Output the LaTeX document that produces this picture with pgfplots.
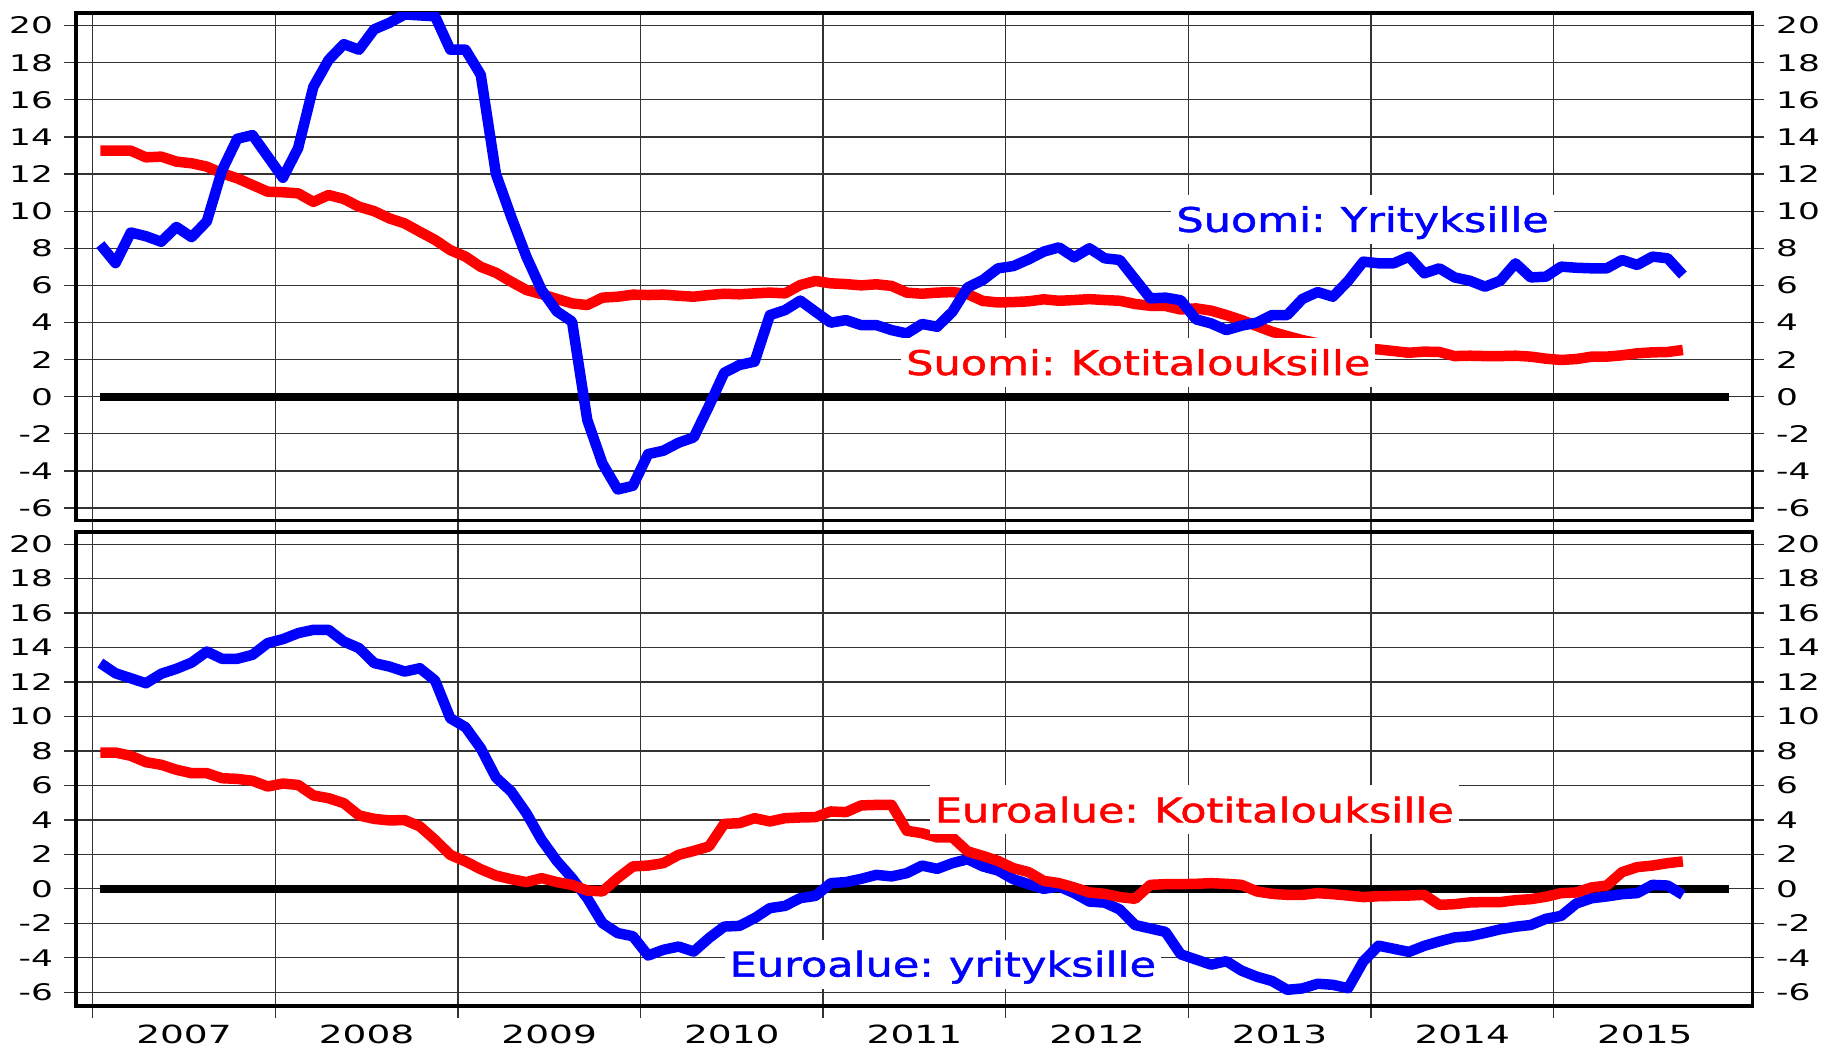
\documentclass[border=0pt]{standalone}
\usepackage{pgfplots}
\pgfplotsset{compat=1.18}
\usepackage{pgfplotstable}
\usepackage{fontspec}
\setmainfont{DejaVu Sans}
\newfontfamily\tickfont[FakeStretch=1.5]{DejaVu Sans}
\newfontfamily\labfont[FakeStretch=1.265, FakeBold=1.5]{DejaVu Sans}
\definecolor{cb}{RGB}{0,0,255}
\definecolor{cr}{RGB}{255,0,0}
\pgfplotstableread{
fiy fik eay eak
8.2 13.26 13.1 7.91
7.2 13.26 12.51 7.91
8.85 13.26 12.22 7.72
8.65 12.9 11.93 7.35
8.35 12.94 12.48 7.2
9.15 12.67 12.77 6.91
8.6 12.58 13.13 6.71
9.45 12.4 13.77 6.71
12.2 12.04 13.35 6.42
13.9 11.77 13.35 6.38
14.1 11.41 13.58 6.27
12.95 11.05 14.26 5.94
11.8 11.02 14.49 6.11
13.4 10.96 14.84 6.03
16.7 10.5 15.03 5.42
18.15 10.87 15.03 5.26
19.0 10.66 14.35 4.97
18.7 10.24 13.97 4.26
19.8 10.0 13.1 4.06
20.15 9.61 12.9 3.97
20.6 9.34 12.61 3.99
20.55 8.89 12.8 3.62
20.5 8.45 12.09 2.84
18.7 7.9 9.9 1.97
18.7 7.55 9.38 1.59
17.35 7.0 8.16 1.14
12.0 6.68 6.46 0.77
9.7 6.2 5.65 0.56
7.55 5.75 4.39 0.39
5.75 5.53 2.84 0.62
4.6 5.27 1.62 0.39
4.05 5.03 0.62 0.23
-1.25 4.94 -0.54 -0.1
-3.6 5.34 -1.99 -0.15
-5.0 5.39 -2.57 0.62
-4.8 5.5 -2.75 1.3
-3.09 5.48 -3.87 1.35
-2.91 5.5 -3.54 1.49
-2.48 5.44 -3.35 1.97
-2.19 5.39 -3.64 2.2
-0.5 5.48 -2.86 2.46
1.29 5.55 -2.19 3.77
1.71 5.52 -2.15 3.81
1.89 5.57 -1.7 4.1
4.4 5.61 -1.12 3.91
4.67 5.57 -0.99 4.1
5.18 6.02 -0.54 4.14
4.58 6.24 -0.41 4.16
3.99 6.11 0.33 4.49
4.13 6.07 0.39 4.45
3.86 6.0 0.58 4.84
3.86 6.06 0.81 4.87
3.59 5.97 0.72 4.87
3.41 5.61 0.91 3.37
3.92 5.55 1.35 3.23
3.77 5.61 1.16 2.98
4.58 5.64 1.49 2.98
5.89 5.53 1.72 2.17
6.29 5.16 1.3 1.91
6.92 5.08 1.06 1.62
7.04 5.1 0.56 1.2
7.4 5.14 0.27 0.97
7.82 5.25 0.0 0.46
8.05 5.17 0.14 0.33
7.51 5.21 -0.25 0.08
8.0 5.26 -0.74 -0.21
7.46 5.21 -0.8 -0.29
7.37 5.17 -1.2 -0.48
6.33 5.0 -2.1 -0.58
5.3 4.9 -2.3 0.23
5.34 4.89 -2.5 0.27
5.2 4.7 -3.8 0.27
4.17 4.76 -4.1 0.29
3.95 4.64 -4.4 0.33
3.59 4.4 -4.2 0.29
3.83 4.13 -4.75 0.23
3.99 3.81 -5.1 -0.15
4.4 3.5 -5.35 -0.29
4.4 3.27 -5.86 -0.35
5.27 3.05 -5.78 -0.35
5.64 2.88 -5.51 -0.25
5.39 2.73 -5.57 -0.31
6.24 2.66 -5.77 -0.39
7.28 2.6 -4.21 -0.48
7.19 2.55 -3.3 -0.43
7.19 2.46 -3.48 -0.41
7.55 2.37 -3.66 -0.39
6.65 2.43 -3.31 -0.35
6.92 2.41 -3.05 -0.93
6.43 2.19 -2.82 -0.89
6.25 2.21 -2.75 -0.79
5.93 2.19 -2.56 -0.77
6.25 2.19 -2.35 -0.77
7.19 2.21 -2.2 -0.66
6.43 2.16 -2.1 -0.6
6.47 2.05 -1.74 -0.46
7.01 1.98 -1.57 -0.25
6.95 2.03 -0.85 -0.21
6.92 2.16 -0.55 0.08
6.92 2.16 -0.44 0.19
7.37 2.23 -0.31 0.97
7.1 2.34 -0.25 1.26
7.55 2.39 0.23 1.35
7.46 2.41 0.19 1.49
6.56 2.52 -0.35 1.59
}\data
\pgfplotsset{
  panel/.style={
    scale only axis, width=1676.7pt, anchor=south west,
    xmin=-1.098, xmax=109.09,
    xtick={0,12,...,96}, xticklabels={},
    ytick={-6,-4,...,20},
    xmajorgrids, ymajorgrids,
    major grid style={black!80, line width=1.3pt},
    axis line style={line width=3.5pt},
    tick align=outside,
    major tick style={black!80, line width=1.3pt},
    major tick length=11.5pt,
    xtick pos=bottom, ytick pos=both, yticklabel pos=left,
    /pgf/number format/assume math mode=true,
    yticklabel style={font=\tickfont\fontsize{22.9}{24}\selectfont, inner sep=0pt, xshift=-11.4pt},
    every axis plot/.append style={line width=10.5pt, line join=round},
  },
  rightlab/.style={
    scale only axis, width=1676.7pt, anchor=south west,
    xmin=-1.098, xmax=109.09,
    hide x axis, axis y line*=right, y axis line style={draw=none},
    ytick={-6,-4,...,20}, major tick length=0pt, ytick style={draw=none},
    /pgf/number format/assume math mode=true,
    yticklabel style={font=\tickfont\fontsize{22.9}{24}\selectfont, inner sep=0pt, anchor=west, xshift=23.3pt},
  },
}
\tikzset{
  lab/.style={font=\labfont\fontsize{34}{36}\selectfont, fill=white, anchor=base,
    inner xsep=5pt, inner ysep=6pt, text height=31pt, text depth=6pt},
}
\begin{document}
\begin{tikzpicture}
\path[use as bounding box] (0pt,0pt) rectangle (1822pt,1049pt);
% top panel
\begin{axis}[panel, at={(76pt,528.5pt)}, height=507.5pt, ymin=-6.67, ymax=20.68]
\addplot[black, line width=8pt] coordinates {(0.5,0) (107.5,0)};
\addplot[cr] table[x expr=\coordindex+0.5, y=fik]{\data};
\addplot[cb] table[x expr=\coordindex+0.5, y=fiy]{\data};
\node[lab, text=cb] at (axis cs:83.45,8.88) {Suomi:\kern-3pt{} Yrityksille};
\node[lab, text=cr] at (axis cs:68.71,1.17) {Suomi:\kern-3pt{} Kotitalouksille};
\end{axis}
\begin{axis}[rightlab, at={(76pt,528.5pt)}, height=507.5pt, ymin=-6.67, ymax=20.68]
\end{axis}
% lower panel
\begin{axis}[panel, at={(76pt,43pt)}, height=474.2pt, ymin=-6.8, ymax=20.72,
  extra x ticks={6,18,...,102},
  extra x tick labels={2007,2008,2009,2010,2011,2012,2013,2014,2015},
  extra x tick style={grid=none, major tick length=0pt,
    xticklabel style={font=\tickfont\fontsize{25}{26}\selectfont, anchor=base, inner sep=0pt, yshift=-37pt}}]
\addplot[black, line width=8pt] coordinates {(0.5,0) (107.5,0)};
\addplot[cb] table[x expr=\coordindex+0.5, y=eay]{\data};
\addplot[cr] table[x expr=\coordindex+0.5, y=eak]{\data};
\node[lab, text=cr] at (axis cs:72.39,3.85) {Euroalue:\kern-3pt{} Kotitalouksille};
\node[lab, text=cb] at (axis cs:55.87,-5.09) {Euroalue:\kern-3pt{} yrityksille};
\end{axis}
\begin{axis}[rightlab, at={(76pt,43pt)}, height=474.2pt, ymin=-6.8, ymax=20.72]
\end{axis}
\end{tikzpicture}
\end{document}
